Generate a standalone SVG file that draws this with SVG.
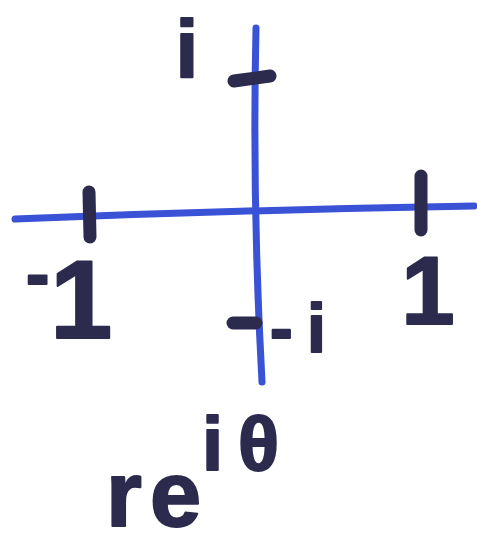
<svg xmlns="http://www.w3.org/2000/svg" width="477" height="546" viewBox="0 0 477 546">
<style>
.axis{fill:none;stroke:#3a52d6;stroke-width:7;stroke-linecap:round}
.tick{fill:none;stroke:#2c2b4e;stroke-width:13;stroke-linecap:round}
.lbl{font-family:"Liberation Sans",Arial,sans-serif;font-weight:bold;fill:#2c2b4e;stroke:#2c2b4e;stroke-width:2;stroke-linejoin:round}
</style>
<rect width="477" height="546" fill="#ffffff"/>
<g id="axes">
<path class="axis" d="M15 219 Q240 210 474 206"/>
<path class="axis" d="M256 28 Q252 200 262 382"/>
</g>
<g id="ticks">
<line class="tick" x1="234" y1="81" x2="270" y2="76"/>
<line class="tick" x1="233" y1="323" x2="256" y2="323"/>
<line class="tick" x1="89" y1="192" x2="90" y2="237"/>
<line class="tick" x1="421" y1="176" x2="421" y2="230"/>
</g>
<g id="labels">
<text class="lbl" x="187" y="77" font-size="82" text-anchor="middle">i</text>
<text class="lbl"><tspan x="26" y="298" font-size="70">-</tspan><tspan x="50" y="338" font-size="112">1</tspan></text>
<text class="lbl" x="428" y="324" font-size="96" text-anchor="middle">1</text>
<text class="lbl" font-size="68"><tspan x="270" y="352">-</tspan><tspan x="307" y="352">i</tspan></text>
<text class="lbl"><tspan x="106" y="526" font-size="92">r</tspan><tspan x="150" y="526" font-size="92">e</tspan><tspan x="202" y="470" font-size="76">i</tspan><tspan x="238" y="470" font-size="76">θ</tspan></text>
</g>
</svg>
